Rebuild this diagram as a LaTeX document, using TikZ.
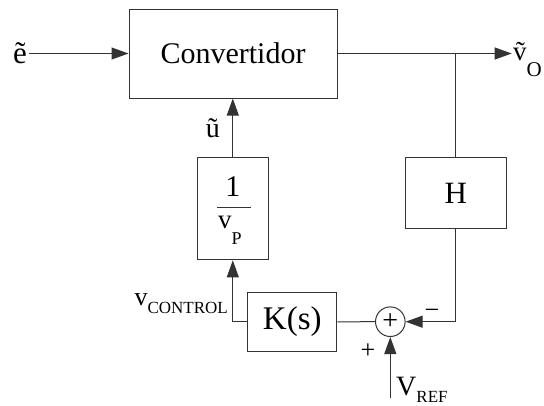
\documentclass[tikz,border=0pt]{standalone}
\usepackage{fontspec}
\setmainfont{Liberation Serif}
\usetikzlibrary{arrows.meta}
\newcommand\fsz[1]{\fontsize{#1bp}{#1bp}\selectfont}
\begin{document}
\begin{tikzpicture}[x=1bp,y=-1bp,
  blk/.style={draw=black!80, line width=1bp, inner sep=0pt, rectangle},
  conn/.style={draw=black!80, line width=1bp},
  arr/.style={conn, -{Triangle[length=17bp,width=12bp]}},
  lbl/.style={inner sep=0pt}]
\useasboundingbox (0,0) rectangle (544,405);
% blocks
\node[blk, minimum width=208bp, minimum height=89bp] (conv) at (233,53.5) {\fsz{30}Convertidor};
\node[blk, minimum width=71bp, minimum height=102bp] (inv) at (232.8,208.8) {};
\node[blk, minimum width=101bp, minimum height=71bp] (H) at (455.7,193) {\fsz{31}H};
\node[blk, minimum width=89bp, minimum height=59bp] (K) at (292.3,321.8) {\fsz{33}K(s)};
\node[draw=black!80, line width=1bp, circle, minimum size=29.6bp, inner sep=0pt] (sum) at (390.3,321.7) {};
\node[lbl] (plus) at (sum.center) {\fsz{28}+};
% fraction inside inv
\node[lbl, anchor=base] (one) at (232.8,196) {\fsz{30}1};
\draw[conn] (217.3,207.3) -- (250.7,207.3);
\node[lbl, anchor=base west] (vp) at (218,228) {\fsz{27}v\raisebox{-16bp}{\fsz{18}P}};
% labels
\node[lbl, anchor=base east] (et) at (27,63) {\fsz{31}ẽ};
\node[lbl, anchor=base west] (vot) at (513,60) {\fsz{27}ṽ\raisebox{-16bp}{\fsz{21}O}};
\node[lbl, anchor=base east] (ut) at (220,137.5) {\fsz{28}ũ};
\node[lbl, anchor=base east] (vc) at (228,305) {\fsz{26}v\raisebox{-8bp}{\fsz{17}CONTROL}};
\node[lbl, anchor=base] (minus) at (432,318) {\fsz{26}−};
\node[lbl] (pl) at (368,351) {\fsz{26}+};
\node[lbl, anchor=base west] (vr) at (396,395) {\fsz{28}V\raisebox{-7bp}{\fsz{17}REF}};
% connectors
\coordinate (vo) at (511.7,53.5);
\coordinate (br) at (455.7,53.5);
\coordinate (vref) at (390.3,398.3);
\draw[arr] ([xshift=2bp]et.east |- conv.west) -- (conv.west);
\draw[arr] (conv.east) -- (vo);
\draw[conn] (br) -- (H.north);
\draw[arr] (H.south) |- (sum.east);
\draw[conn] (K.east) -- (sum.west);
\draw[arr] (K.west) -| (inv.south);
\draw[arr] (inv.north) -- (inv.north |- conv.south);
\draw[arr] (vref) -- (sum.south);
\end{tikzpicture}
\end{document}
